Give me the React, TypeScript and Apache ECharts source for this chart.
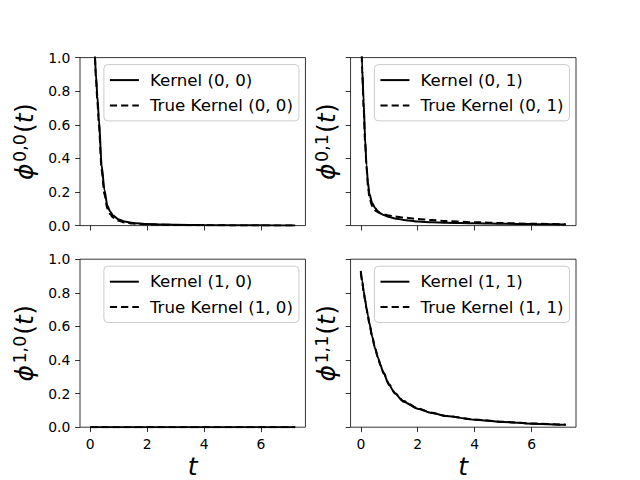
import React, { useEffect, useRef } from 'react';
import * as echarts from 'echarts';

// ---- data ----
const T = [0, 0.05, 0.1, 0.15, 0.2, 0.25, 0.3, 0.4, 0.5, 0.6, 0.7, 0.8, 1.0, 1.2, 1.5, 2.0, 2.5, 3.0, 4.0, 5.0, 6.0, 7.2];

const kernel00 = [2.2, 1.75, 1.4, 1.05, 0.9, 0.77, 0.645, 0.36, 0.21, 0.12, 0.083, 0.06, 0.037, 0.025, 0.016, 0.010, 0.007, 0.005, 0.003, 0.002, 0.0015, 0.001];
const trueKernel00 = [2.4, 1.85, 1.42, 1.04, 0.88, 0.74, 0.61, 0.33, 0.185, 0.1, 0.068, 0.048, 0.029, 0.019, 0.012, 0.007, 0.005, 0.0035, 0.002, 0.0013, 0.001, 0.0007];

const kernel01 = [1.25, 0.93, 0.74, 0.52, 0.36, 0.26, 0.19, 0.135, 0.105, 0.085, 0.072, 0.063, 0.051, 0.043, 0.034, 0.024, 0.02, 0.017, 0.014, 0.011, 0.009, 0.007];
const trueKernel01 = [1.35, 0.92, 0.7, 0.5, 0.35, 0.24, 0.17, 0.115, 0.09, 0.08, 0.072, 0.067, 0.06, 0.055, 0.048, 0.039, 0.033, 0.027, 0.02, 0.015, 0.011, 0.008];

const kernel10 = [0, 0, 0, 0, 0, 0, 0, 0, 0, 0, 0, 0, 0, 0, 0, 0, 0, 0, 0, 0, 0, 0];
const trueKernel10 = [0, 0, 0, 0, 0, 0, 0, 0, 0, 0, 0, 0, 0, 0, 0, 0, 0, 0, 0, 0, 0, 0];

const kernel11 = [0.93, 0.87, 0.81, 0.76, 0.71, 0.665, 0.62, 0.54, 0.47, 0.415, 0.365, 0.32, 0.25, 0.2, 0.152, 0.11, 0.085, 0.066, 0.045, 0.031, 0.021, 0.014];
const trueKernel11 = [0.92, 0.865, 0.805, 0.755, 0.705, 0.66, 0.618, 0.54, 0.472, 0.417, 0.368, 0.325, 0.255, 0.204, 0.156, 0.112, 0.086, 0.067, 0.046, 0.032, 0.022, 0.015];

const xTicks = [0, 2, 4, 6];
const yTicks = [0, 0.2, 0.4, 0.6, 0.8, 1.0];
const panelLabels = ['0, 0', '0, 1', '1, 0', '1, 1'];
const panelSups = ['0,0', '0,1', '1,0', '1,1'];
const xAxisLabel = 't';

// ---- layout ----
const W = 640, H = 480;
const GRID_LEFT = [80, 350.55];
const GRID_TOP = [57.6, 259.2];
const GRID_W = 225.45, GRID_H = 168;
const FONT = 'DejaVu Sans';
const DASH = [7.2, 4];

const panels = [
  { row: 0, col: 0, k: kernel00, tk: trueKernel00 },
  { row: 0, col: 1, k: kernel01, tk: trueKernel01 },
  { row: 1, col: 0, k: kernel10, tk: trueKernel10 },
  { row: 1, col: 1, k: kernel11, tk: trueKernel11 },
];

function measure(text: string, font: string): number {
  const c = document.createElement('canvas').getContext('2d');
  if (!c) return text.length * 12;
  c.font = font;
  return c.measureText(text).width;
}

function yLabel(gx: number, gy: number, sup: string) {
  const big = 25, small = 17.5;
  const parts = [
    { text: 'ϕ', size: big, italic: true, dy: 0, gap: 1.5 },
    { text: sup, size: small, italic: false, dy: -7, gap: 1 },
    { text: '(', size: big, italic: false, dy: 0, gap: 0 },
    { text: 't', size: big, italic: true, dy: 0, gap: 0.5 },
    { text: ')', size: big, italic: false, dy: 0, gap: 0 },
  ];
  const widths = parts.map((p) => measure(p.text, `${p.italic ? 'italic ' : ''}${p.size}px "${FONT}"`));
  const total = widths.reduce((a, b) => a + b, 0) + parts.reduce((a, p) => a + p.gap, 0);
  let x = -total / 2;
  const children = parts.map((p, i) => {
    const el = {
      type: 'text',
      x,
      y: p.dy - 0.35 * p.size,
      style: {
        text: p.text,
        fontSize: p.size,
        fontStyle: p.italic ? 'italic' : 'normal',
        fontFamily: FONT,
        fill: '#000',
        align: 'left',
        verticalAlign: 'middle',
        lineHeight: p.size * 0.8,
      },
    };
    x += widths[i] + p.gap;
    return el;
  });
  return { type: 'group', x: gx, y: gy, rotation: Math.PI / 2, children };
}

export default function App() {
  const ref = useRef<HTMLDivElement>(null);

  useEffect(() => {
    if (!ref.current) return;
    const chart = echarts.init(ref.current, null, { renderer: 'svg' });

    const grids = panels.map((p) => ({
      left: GRID_LEFT[p.col],
      top: GRID_TOP[p.row],
      width: GRID_W,
      height: GRID_H,
      show: true,
      borderColor: '#000',
      borderWidth: 0.8,
      backgroundColor: 'transparent',
    }));

    const tickLabelStyle = { color: '#000', fontSize: 13.9, fontFamily: FONT };

    const xAxes = panels.map((p, i) => ({
      type: 'value',
      gridIndex: i,
      min: -0.36,
      max: 7.56,
      axisLine: { show: false, onZero: false },
      splitLine: { show: false },
      axisTick: { show: true, inside: false, length: 4.9, lineStyle: { color: '#000', width: 0.8 }, customValues: xTicks },
      axisLabel: { show: p.row === 1, customValues: xTicks, margin: 9.7, ...tickLabelStyle },
    }));

    const yAxes = panels.map((p, i) => ({
      type: 'value',
      gridIndex: i,
      min: 0,
      max: 1,
      axisLine: { show: false, onZero: false },
      splitLine: { show: false },
      axisTick: { show: true, inside: false, length: 4.9, lineStyle: { color: '#000', width: 0.8 }, customValues: yTicks },
      axisLabel: {
        show: p.col === 0,
        customValues: yTicks,
        margin: 9.7,
        formatter: (v: number) => v.toFixed(1),
        ...tickLabelStyle,
      },
    }));

    const series: any[] = [];
    panels.forEach((p, i) => {
      series.push({
        type: 'line',
        name: `Kernel (${panelLabels[i]})`,
        xAxisIndex: i,
        yAxisIndex: i,
        data: T.map((t, j) => [t, p.k[j]]),
        symbol: 'none',
        showSymbol: false,
        smooth: 0.25,
        smoothMonotone: 'x',
        clip: true,
        lineStyle: { color: '#000', width: 2, type: 'solid' },
        itemStyle: { color: '#000' },
      });
      series.push({
        type: 'line',
        name: `True Kernel (${panelLabels[i]})`,
        xAxisIndex: i,
        yAxisIndex: i,
        data: T.map((t, j) => [t, p.tk[j]]),
        symbol: 'none',
        showSymbol: false,
        smooth: 0.25,
        smoothMonotone: 'x',
        clip: true,
        lineStyle: { color: '#000', width: 2, type: DASH },
        itemStyle: { color: '#000' },
      });
    });

    const legends = panels.map((p, i) => ({
      data: [`Kernel (${panelLabels[i]})`, `True Kernel (${panelLabels[i]})`],
      orient: 'vertical',
      right: W - (GRID_LEFT[p.col] + GRID_W - 6.5),
      top: GRID_TOP[p.row] + 7,
      padding: [7, 6, 7, 5],
      itemWidth: 29,
      itemHeight: 16,
      itemGap: 8.3,
      selectedMode: false,
      backgroundColor: 'rgba(255,255,255,0.8)',
      borderColor: '#cccccc',
      borderWidth: 1,
      borderRadius: 4,
      itemStyle: { color: 'rgba(0,0,0,0)', borderWidth: 0, opacity: 0 },
      lineStyle: { color: '#000', width: 2 },
      textStyle: { color: '#000', fontSize: 16.67, fontFamily: FONT, lineHeight: 16, padding: [0, 0, 0, 6] },
    }));

    const graphics: any[] = [];
    panels.forEach((p, i) => {
      const gx = p.col === 0 ? 33 : 335;
      const gy = GRID_TOP[p.row] + GRID_H / 2;
      graphics.push(yLabel(gx, gy, panelSups[i]));
    });
    [0, 1].forEach((c) => {
      graphics.push({
        type: 'text',
        x: GRID_LEFT[c] + GRID_W / 2,
        y: 466.5,
        style: {
          text: xAxisLabel,
          fontSize: 25,
          fontStyle: 'italic',
          fontFamily: FONT,
          fill: '#000',
          align: 'center',
          verticalAlign: 'middle',
          lineHeight: 20,
        },
      });
    });

    chart.setOption({
      animation: false,
      backgroundColor: '#fff',
      grid: grids,
      xAxis: xAxes,
      yAxis: yAxes,
      legend: legends,
      series,
      graphic: graphics,
    });

    return () => chart.dispose();
  }, []);

  return <div ref={ref} style={{ position: 'absolute', left: 0, top: 0, width: W, height: H }} />;
}
